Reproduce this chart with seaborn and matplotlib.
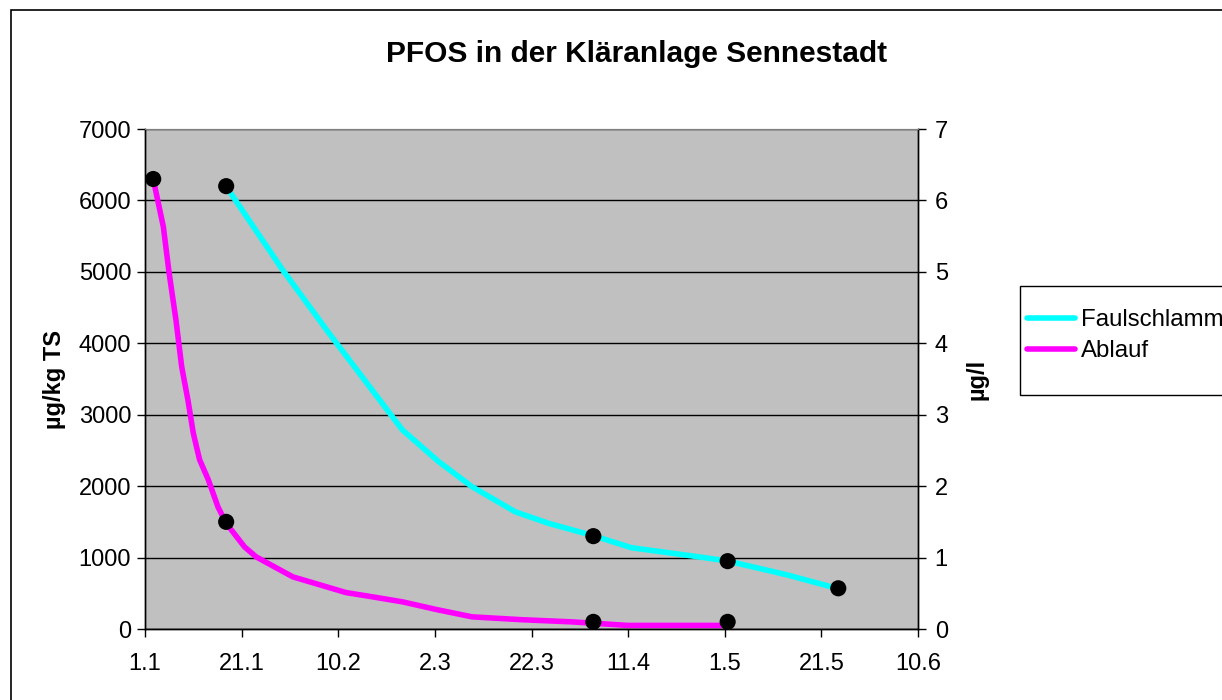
import matplotlib
matplotlib.use("Agg")
import matplotlib.pyplot as plt
from matplotlib.patches import Rectangle
import pandas as pd
import seaborn as sns

# x positions are days after 1 January (axis runs 1.1 -> 10.6)
tick_days = [0, 20, 40, 60, 80, 100, 120, 140, 160]
tick_labels = ["1.1", "21.1", "10.2", "2.3", "22.3", "11.4", "1.5", "21.5", "10.6"]

# measured points (black dots)
faul_mess_day = [16.8, 92.8, 120.6, 143.5]
faul_mess_val = [6200, 1300, 950, 570]          # µg/kg TS
ablauf_mess_day = [1.7, 16.8, 92.8, 120.6]
ablauf_mess_val = [6.3, 1.5, 0.1, 0.1]          # µg/l

# smoothed curves
faul_line_day = [16.8, 17.5, 28.5, 38.1, 51.2, 53.3, 60.8, 67.7, 76.6,
                 83.5, 92.8, 100.7, 114.4, 120.6, 133.0, 143.5]
faul_line_val = [6200, 6125, 5026, 4140, 2972, 2786, 2342, 1992, 1642,
                 1480, 1306, 1138, 1012, 952, 756, 564]
ablauf_line_day = [1.7, 3.8, 5.0, 6.4, 7.6, 8.9, 10.0, 11.3, 13.1, 15.1, 16.8,
                   20.6, 23.0, 30.6, 36.1, 41.6, 47.1, 53.3, 60.5, 67.7, 78.0,
                   88.3, 100.0, 120.6]
ablauf_line_val = [6.3, 5.63, 4.98, 4.33, 3.67, 3.2, 2.74, 2.37, 2.09, 1.71, 1.48,
                   1.15, 1.01, 0.73, 0.62, 0.51, 0.45, 0.38, 0.27, 0.17, 0.13,
                   0.10, 0.05, 0.05]

faul_line = pd.DataFrame({"tag": faul_line_day, "wert": faul_line_val})
ablauf_line = pd.DataFrame({"tag": ablauf_line_day, "wert": ablauf_line_val})
faul_mess = pd.DataFrame({"tag": faul_mess_day, "wert": faul_mess_val})
ablauf_mess = pd.DataFrame({"tag": ablauf_mess_day, "wert": ablauf_mess_val})

sns.set_style("white")
plt.rcParams["font.family"] = ["Liberation Sans", "DejaVu Sans"]
plt.rcParams["text.color"] = "black"
plt.rcParams["xtick.color"] = "black"
plt.rcParams["ytick.color"] = "black"
plt.rcParams["axes.labelcolor"] = "black"

fig = plt.figure(figsize=(12.22, 7.0), dpi=100)
ax = fig.add_axes([145 / 1222, 1 - 629 / 700, (918 - 145) / 1222, 500 / 700])
ax2 = ax.twinx()

sns.lineplot(data=faul_line, x="tag", y="wert", ax=ax, color="#00FFFF",
             lw=4, sort=False, estimator=None, legend=False)
sns.lineplot(data=ablauf_line, x="tag", y="wert", ax=ax2, color="#FF00FF",
             lw=4, sort=False, estimator=None, legend=False)
sns.scatterplot(data=faul_mess, x="tag", y="wert", ax=ax, color="black",
                s=135, edgecolor="none", zorder=5, legend=False)
sns.scatterplot(data=ablauf_mess, x="tag", y="wert", ax=ax2, color="black",
                s=135, edgecolor="none", zorder=5, legend=False)

ax.set_facecolor("#C0C0C0")
ax2.patch.set_visible(False)
ax.set_xlim(0, 160)
ax.set_ylim(0, 7000)
ax2.set_ylim(0, 7)
ax.set_xticks(tick_days)
ax.set_xticklabels(tick_labels)
ax.set_yticks(range(0, 7001, 1000))
ax2.set_yticks(range(0, 8))
ax.grid(axis="y", color="black", lw=1)
ax.grid(axis="x", visible=False)
ax2.grid(False)
ax.set_axisbelow(True)

for a in (ax, ax2):
    for side in ["left", "right", "bottom"]:
        a.spines[side].set_color("black")
        a.spines[side].set_linewidth(1)
    a.spines["top"].set_color("#808080")
    a.set_xlabel("")
    a.set_ylabel("")

ax.tick_params(axis="y", direction="out", length=6, width=1, color="black",
               pad=4, labelsize=17, left=True)
ax.tick_params(axis="x", direction="out", length=6, width=1, color="black",
               pad=11, labelsize=17, bottom=True)
ax2.tick_params(axis="y", direction="out", length=6, width=1, color="black",
                pad=6, labelsize=17, right=True)

fig.text(54 / 1222, 1 - 379 / 700, "µg/kg TS", rotation=90, ha="center",
         va="center", fontsize=17, fontweight="bold")
fig.text(977 / 1222, 1 - 379 / 700, "µg/l", rotation=90, ha="center",
         va="center", fontsize=17, fontweight="bold")
fig.text(637 / 1222, 1 - 62 / 700, "PFOS in der Kläranlage Sennestadt",
         ha="center", va="baseline", fontsize=21.5, fontweight="bold")

# outer chart frame (cut off at right and bottom like the source)
fig.patches.append(Rectangle((11 / 1222, -0.1), 1.2, 1.1 - 10 / 700,
                             transform=fig.transFigure, fill=False,
                             ec="black", lw=1.2))
# legend box
fig.patches.append(Rectangle((1020 / 1222, 1 - 395 / 700), 0.3, 109 / 700,
                             transform=fig.transFigure, fill=True, fc="white",
                             ec="black", lw=1))
handles = [ax.lines[0], ax2.lines[0]]
fig.legend(handles, ["Faulschlamm", "Ablauf"], loc="upper left",
           bbox_to_anchor=(1027 / 1222, 1 - 309 / 700), frameon=False,
           fontsize=17.3, handlelength=2.0, handletextpad=0.24,
           borderpad=0, borderaxespad=0, labelspacing=0.38)

fig.savefig("out.png", dpi=100)
